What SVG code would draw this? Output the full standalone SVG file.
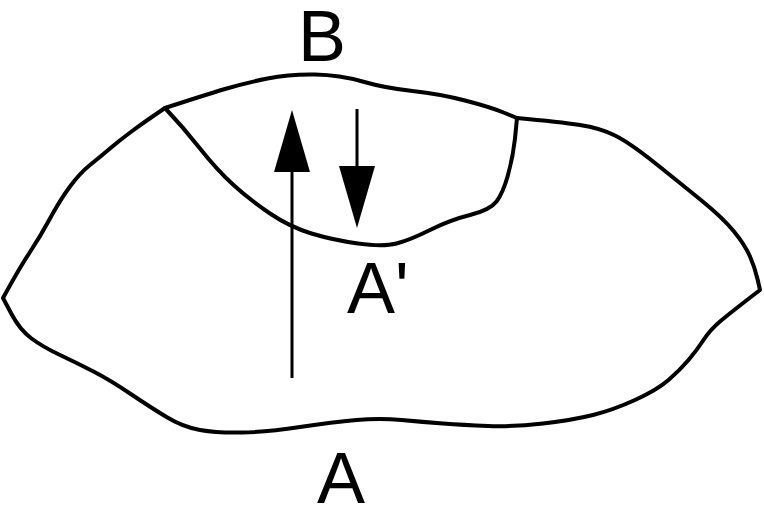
<svg xmlns="http://www.w3.org/2000/svg" width="764" height="509" viewBox="0 0 764 509">
<style>
.outline{fill:none;stroke:#000;stroke-width:4;stroke-linejoin:round;stroke-linecap:round}
.arrow{stroke:#000;stroke-width:3;fill:none}
.lbl{font-family:"Liberation Sans",Arial,sans-serif;font-size:72px;fill:#000}
</style>
<defs>
<marker id="head" viewBox="0 0 62 36" markerWidth="62" markerHeight="36" markerUnits="userSpaceOnUse" refX="0" refY="18" orient="auto">
<path d="M0,0 L62,18 L0,36 Z" fill="#000"/>
</marker>
</defs>
<rect width="764" height="509" fill="#fff"/>
<g id="outer">
<path class="outline" d="M165,108 Q205,95 225,89 Q245,83 267.5,78.5 Q290,74 315,74.5 Q340,75 362.5,81.5 Q385,88 412.5,91 Q440,94 465,100.5 Q490,107 503.5,112.5 L517,118 Q560,122 580,125 Q600,128 615,135.5 Q630,143 655,163 Q680,183 701.5,200.5 Q723,218 734,231.5 Q745,245 750,256.5 Q755,268 757.5,279 L760,290 Q730,313 720,321.5 Q710,330 703.5,340 Q697,350 688.5,360 Q680,370 668.5,380 Q657,390 635,400 Q613,410 593,415 Q573,420 543,423.5 Q513,427 488,426 Q463,425 443,423.5 Q423,422 401.5,420 Q380,418 356.5,420 Q333,422 300,427 Q267,432 242,432.5 Q217,433 200,430 Q183,427 166.5,417 Q150,407 130,393.5 Q110,380 93.5,371.5 Q77,363 60,355 Q43,347 31.5,338.5 Q20,330 11.5,314 L3,298 Q20,267 30,252 Q40,237 50,218.5 Q60,200 70,186.5 Q80,173 90,165 Q100,157 110,148.5 Q120,140 131.5,131.5 Q143,123 154,115.5 Z"/>
</g>
<g id="inner">
<path class="outline" d="M165,108 Q183,127 200,148.5 Q217,170 233.5,185 Q250,200 270,213.5 Q290,227 311.5,233.5 Q333,240 358,243.5 Q383,247 396.5,243.5 Q410,240 430,230 Q450,220 470,215 Q490,210 496.5,201.5 Q503,193 508,175 Q513,157 515,138.5 L517,118"/>
</g>
<g id="connectors">
<line class="arrow" x1="292" y1="378" x2="292" y2="172" marker-end="url(#head)"/>
<line class="arrow" x1="357" y1="109" x2="357" y2="166" marker-end="url(#head)"/>
</g>
<g id="labels">
<text class="lbl" x="298" y="61">B</text>
<text class="lbl" x="347" y="313">A'</text>
<text class="lbl" x="317" y="503">A</text>
</g>
</svg>
